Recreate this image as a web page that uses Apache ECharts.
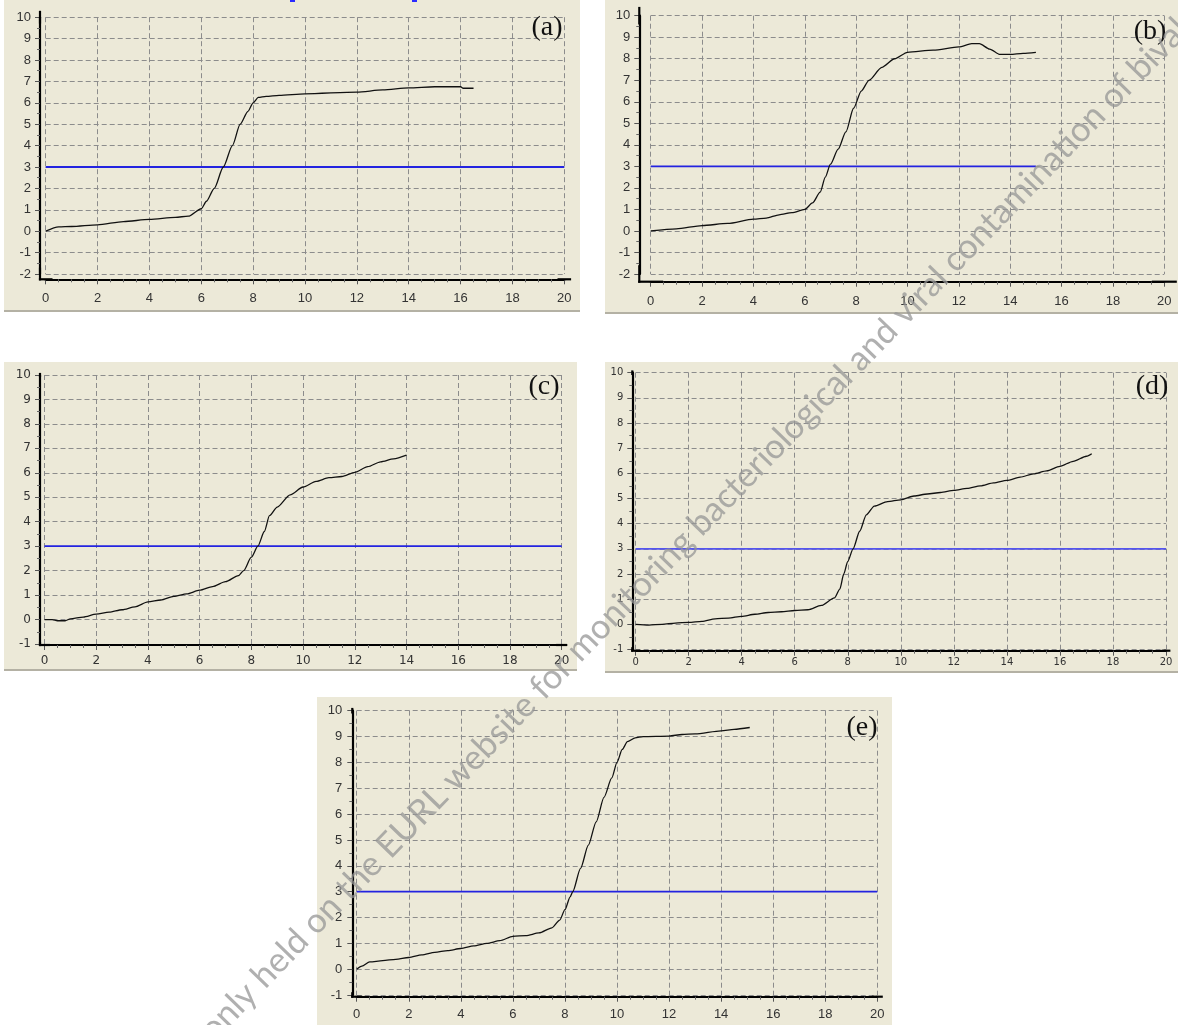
<!DOCTYPE html>
<html>
<head>
<meta charset="utf-8">
<script src="https://cdn.jsdelivr.net/npm/echarts@6.0.0/dist/echarts.min.js"></script>
<style>
  html, body { margin: 0; padding: 0; background: #ffffff; }
  #wrap { position: relative; width: 1178px; height: 1025px; overflow: hidden; }
  .panel { position: absolute; background: #ECE9D8; border-bottom: 2px solid #b4b1a4; box-sizing: border-box; }
  .frag { position: absolute; background: #2a2aff; height: 2px; top: 0; }
  #chart { position: absolute; left: 0; top: 0; width: 1178px; height: 1025px; }
</style>
</head>
<body>
<div id="wrap">
  <div class="panel" style="left:4px;top:0px;width:576px;height:312px;"></div>
  <div class="panel" style="left:605px;top:0px;width:573px;height:314px;"></div>
  <div class="panel" style="left:4px;top:362px;width:573px;height:309px;"></div>
  <div class="panel" style="left:605px;top:362px;width:573px;height:311px;"></div>
  <div class="panel" style="left:317px;top:697px;width:575px;height:328px;border-bottom:none;"></div>
  <div class="frag" style="left:290px;width:5px;"></div>
  <div class="frag" style="left:412px;width:5px;"></div>
  <div id="chart"></div>
</div>
<script>
// ---------------- data ----------------
const panelNames = ['(a)', '(b)', '(c)', '(d)', '(e)'];
const thresholdValue = 3;
const thresholdEnd = [20, 15, 20, 20, 20];
const xTicks = [0, 20, 2];           // min, max, interval
const yMinA = -2, yMinB = -2, yMinC = -1, yMinD = -1, yMinE = -1;
const yMax = 10;

const xA = [0, 0.5, 1, 2, 3, 4, 5, 5.5, 6, 6.2, 6.5, 6.85, 7.2, 7.5, 7.8, 8, 8.2, 8.5, 9, 10, 12, 13, 14, 15, 16, 16.1, 16.5];
const yA = [0, 0.2, 0.22, 0.3, 0.45, 0.55, 0.65, 0.7, 1.05, 1.4, 2.0, 3.0, 4.0, 5.0, 5.6, 6.0, 6.25, 6.3, 6.35, 6.42, 6.5, 6.6, 6.7, 6.75, 6.75, 6.68, 6.68];

const xB = [0, 1, 2, 3, 4, 4.5, 5, 5.5, 6, 6.3, 6.6, 6.8, 7.0, 7.3, 7.6, 7.9, 8.2, 8.5, 9, 9.5, 10, 11, 12, 12.5, 12.8, 13.2, 13.6, 14, 14.5, 15];
const yB = [0, 0.1, 0.25, 0.35, 0.55, 0.6, 0.75, 0.85, 1.0, 1.3, 1.8, 2.5, 3.1, 3.8, 4.6, 5.7, 6.5, 7.0, 7.6, 8.0, 8.3, 8.4, 8.55, 8.7, 8.7, 8.45, 8.2, 8.2, 8.25, 8.3];

const xC = [0, 0.3, 0.5, 0.8, 1, 1.5, 2, 2.5, 3, 3.5, 4, 4.5, 5, 5.5, 6, 6.5, 7, 7.5, 7.7, 8, 8.25, 8.5, 8.7, 9, 9.5, 10, 10.5, 11, 11.5, 12, 12.5, 13, 13.5, 14];
const yC = [0, 0, -0.05, -0.05, 0.03, 0.1, 0.22, 0.3, 0.4, 0.52, 0.72, 0.8, 0.95, 1.05, 1.2, 1.35, 1.55, 1.8, 2.0, 2.55, 3.0, 3.6, 4.25, 4.6, 5.1, 5.42, 5.65, 5.8, 5.85, 6.02, 6.25, 6.45, 6.57, 6.72];

const xD = [0, 0.5, 1, 1.5, 2, 2.5, 3, 3.5, 4, 4.5, 5, 5.5, 6, 6.5, 7, 7.5, 7.7, 7.85, 8, 8.2, 8.45, 8.7, 9, 9.5, 10, 10.5, 11, 11.5, 12, 12.5, 13, 13.5, 14, 14.5, 15, 15.5, 16, 16.5, 17, 17.2];
const yD = [0, -0.03, 0, 0.05, 0.08, 0.12, 0.22, 0.25, 0.32, 0.4, 0.47, 0.5, 0.55, 0.58, 0.75, 1.05, 1.4, 2.0, 2.5, 3.0, 3.7, 4.35, 4.7, 4.88, 4.95, 5.1, 5.18, 5.24, 5.32, 5.4, 5.5, 5.62, 5.72, 5.85, 5.98, 6.1, 6.28, 6.48, 6.68, 6.78];

const xE = [0, 0.2, 0.5, 1, 1.5, 2, 2.5, 3, 3.5, 4, 4.5, 5, 5.5, 6, 6.5, 7, 7.5, 7.8, 8, 8.2, 8.3, 8.6, 8.9, 9.2, 9.5, 9.8, 10, 10.2, 10.4, 10.7, 11, 12, 12.5, 13, 14, 14.5, 15.1];
const yE = [0, 0.12, 0.28, 0.33, 0.38, 0.45, 0.55, 0.65, 0.72, 0.8, 0.9, 1.0, 1.1, 1.27, 1.3, 1.4, 1.6, 1.9, 2.3, 2.8, 3.0, 3.9, 4.8, 5.7, 6.65, 7.4, 8.0, 8.5, 8.8, 8.95, 9.0, 9.02, 9.08, 9.1, 9.22, 9.28, 9.35];

const watermarkText = 'only held on the EURL website for monitoring bacteriological and viral contamination of bivalve molluscs';

// ---------------- layout / style ----------------
const curvesX = [xA, xB, xC, xD, xE];
const curvesY = [yA, yB, yC, yD, yE];
const yMins = [yMinA, yMinB, yMinC, yMinD, yMinE];

const layout = [
  { grid: { left: 45.7, top: 17.2, width: 518.6, height: 256.8 }, yOff: 5.7, xOff: 5.3, font: 'Liberation Sans', fs: 13, xm: 13, ym: 9, lab: [547, 28], blue: '#2323e0' },
  { grid: { left: 650.7, top: 15.7, width: 513.6, height: 258.3 }, yOff: 11.4, xOff: 7.7, font: 'Liberation Sans', fs: 13, xm: 13, ym: 9, lab: [1150, 32], blue: '#2323e0' },
  { grid: { left: 44.5, top: 375, width: 517.2, height: 269 }, yOff: 4.5, xOff: 1, font: 'DejaVu Sans', fs: 12, xm: 10, ym: 9, lab: [544, 387], blue: '#2323e0' },
  { grid: { left: 635.6, top: 372.7, width: 530.4, height: 276.8 }, yOff: 3.3, xOff: 1.2, font: 'DejaVu Sans', fs: 10, xm: 7, ym: 9, lab: [1152, 387], blue: '#5555ee' },
  { grid: { left: 356.7, top: 710.7, width: 520.6, height: 284.3 }, yOff: 4.4, xOff: 1.7, font: 'Liberation Sans', fs: 13, xm: 11, ym: 10, lab: [862, 728], blue: '#2323e0' }
];

const gridColor = '#8c8c8c';
const axisW = 2.2;
const grids = [], xAxes = [], yAxes = [], series = [], graphics = [];

layout.forEach((p, i) => {
  grids.push(Object.assign({ show: false }, p.grid));
  xAxes.push({
    type: 'value', gridIndex: i, min: xTicks[0], max: xTicks[1], interval: xTicks[2],
    offset: p.xOff,
    axisLine: { show: true, onZero: false, symbol: ['rect', 'rect'], symbolSize: [axisW, 2 * (p.yOff + axisW / 2)], lineStyle: { color: '#000', width: axisW } },
    axisTick: { show: true, length: 5, lineStyle: { color: '#555', width: 1 } },
    minorTick: { show: true, splitNumber: 4, length: 3, lineStyle: { color: '#666', width: 1 } },
    axisLabel: { color: '#333', fontFamily: p.font, fontSize: p.fs, margin: p.xm },
    splitLine: { show: true, lineStyle: { color: gridColor, type: [5, 3], width: 1 } }
  });
  yAxes.push({
    type: 'value', gridIndex: i, min: yMins[i], max: yMax, interval: 1,
    offset: p.yOff,
    axisLine: { show: true, onZero: false, symbol: ['rect', 'rect'], symbolSize: [axisW, 2 * (p.xOff + axisW / 2)], lineStyle: { color: '#000', width: axisW } },
    axisTick: { show: true, length: 5, lineStyle: { color: '#555', width: 1 } },
    minorTick: { show: true, splitNumber: 2, length: 3, lineStyle: { color: '#666', width: 1 } },
    axisLabel: { color: '#333', fontFamily: p.font, fontSize: p.fs, margin: p.ym },
    splitLine: { show: true, lineStyle: { color: gridColor, type: [5, 3], width: 1 } }
  });
  series.push({
    type: 'line', xAxisIndex: i, yAxisIndex: i, symbol: 'none',
    lineStyle: { color: p.blue, width: 1.8 },
    data: [[0, thresholdValue], [thresholdEnd[i], thresholdValue]],
    z: 3, silent: true
  });
  series.push({
    type: 'line', xAxisIndex: i, yAxisIndex: i, symbol: 'none',
    smooth: 0.25, smoothMonotone: 'x',
    lineStyle: { color: '#111', width: 1.3 },
    data: curvesX[i].map((x, k) => [x, curvesY[i][k]]),
    z: 4, silent: true
  });
  graphics.push({
    type: 'text', x: p.lab[0], y: p.lab[1], z: 50,
    style: { text: panelNames[i], fontFamily: 'Liberation Serif', fontSize: 28, fill: '#111', align: 'center', verticalAlign: 'middle' }
  });
});

graphics.push({
  type: 'text', x: 206, y: 1035, rotation: 46 * Math.PI / 180, z: 100,
  style: { text: watermarkText, fontFamily: 'Lato', fontSize: 34.6, fill: 'rgba(150,150,150,0.75)', align: 'left', verticalAlign: 'middle' }
});

const chart = echarts.init(document.getElementById('chart'), null, { renderer: 'canvas' });
chart.setOption({
  animation: false,
  backgroundColor: 'transparent',
  grid: grids,
  xAxis: xAxes,
  yAxis: yAxes,
  series: series,
  graphic: graphics
});
</script>
</body>
</html>
